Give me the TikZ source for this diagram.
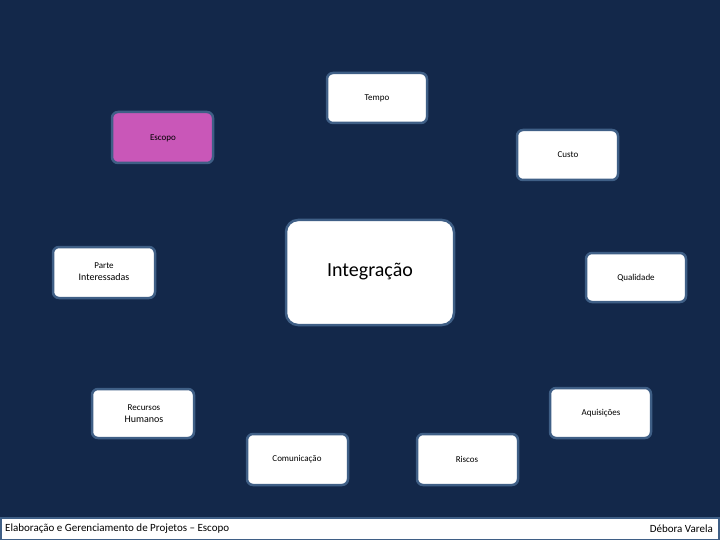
\documentclass[tikz,border=0pt]{standalone}
\usepackage{fontspec}
\setmainfont{Carlito}
\begin{document}
\begin{tikzpicture}[x=1pt,y=-1pt,
 box/.style={draw=bord,line width=2.5pt,rounded corners=6pt,fill=white,font=\fontsize{9}{11}\selectfont,align=center,inner sep=0pt}]
\definecolor{bg}{HTML}{13284A}
\definecolor{bord}{HTML}{3F5F86}
\definecolor{pink}{HTML}{C957B8}
\useasboundingbox (0,0) rectangle (720,540);
\fill[bg] (0,0) rectangle (720,540);
\def\bx#1#2#3#4#5#6{\node[box,minimum width=#4-#2 pt,minimum height=#5-#3 pt,#6] (#1) at ({(#2+#4)/2},{(#3+#5)/2}) {};}
\bx{tempo}{327}{73}{427}{123}{}
\node at (377,98) {\fontsize{9}{11}\selectfont Tempo};
\bx{escopo}{112}{112}{213}{163}{fill=pink}
\node at (163,138) {\fontsize{9}{11}\selectfont Escopo};
\bx{custo}{517}{130}{618}{180}{}
\node at (568,155) {\fontsize{9}{11}\selectfont Custo};
\bx{parte}{53}{247}{155}{298}{}
\node[align=center] at (104,272) {\fontsize{9}{11}\selectfont Parte\\Interessadas};
\bx{integ}{286}{220}{454}{325}{rounded corners=12pt}
\node at (370,272) {\fontsize{20}{24}\selectfont Integração};
\bx{qual}{586}{253}{686}{302}{}
\node at (636,278) {\fontsize{9}{11}\selectfont Qualidade};
\bx{rh}{92}{389}{194}{438}{}
\node[align=center] at (144,414) {\fontsize{9}{11}\selectfont Recursos\\Humanos};
\bx{aq}{550}{388}{651}{438}{}
\node at (601,413) {\fontsize{9}{11}\selectfont Aquisições};
\bx{com}{247}{434}{348}{485}{}
\node at (297,459) {\fontsize{9}{11}\selectfont Comunicação};
\bx{ris}{417}{434}{518}{485}{}
\node at (467,459) {\fontsize{9}{11}\selectfont Riscos};
\draw[bord,fill=white,line width=1.5pt] (1,518) rectangle (719,540);
\node[anchor=west,inner sep=0pt] (ft) at (5,529) {\fontsize{11}{13}\selectfont Elaboração e Gerenciamento de Projetos – Escopo};
\node[anchor=east,inner sep=0pt] (fa) at (713,529) {\fontsize{11}{13}\selectfont Débora Varela};
\end{tikzpicture}
\end{document}
